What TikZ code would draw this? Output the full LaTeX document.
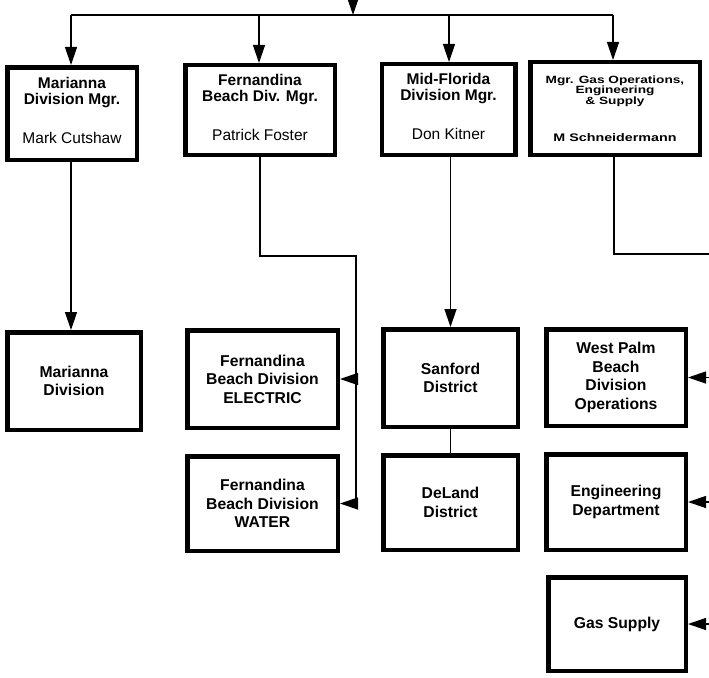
\documentclass[tikz,border=0pt]{standalone}
\usepackage{fontspec}
\setmainfont{Liberation Sans}
\newfontfamily\widefont[FakeStretch=1.3]{Liberation Sans}
\usetikzlibrary{arrows.meta}

\begin{document}
\begin{tikzpicture}[x=1pt,y=-1pt,
  box/.style 2 args={draw, line width=4.5pt,
    minimum width={#1pt-4.5pt}, minimum height={#2pt-4.5pt},
    inner sep=0pt, align=center},
  mgrtext/.style={font=\fontsize{15.5}{16}\selectfont\bfseries, text depth=6pt},
  gastext/.style={font=\widefont\bfseries\fontsize{10.5}{10.5}\selectfont},
  unittext/.style={font=\fontsize{15.7}{18.5}\selectfont\bfseries},
  wire/.style={line width=1.3pt},
  arr/.style={wire, -{Triangle[length=18pt,width=12pt]}}]

\useasboundingbox (0,0) rectangle (709,677);
\clip (0,0) rectangle (709,677);

% ---------- division managers ----------
\node[box={134}{97}, mgrtext] (mgrMar) at (72,113.5)
  {Marianna\\Division Mgr.\\[23pt]{\mdseries Mark Cutshaw}};
\node[box={154}{94}, mgrtext] (mgrFer) at (260,110)
  {Fernandina\\Beach Div. Mgr.\\[23pt]{\mdseries Patrick Foster}};
\node[box={138}{95}, mgrtext] (mgrMid) at (448.5,109.5)
  {Mid-Florida\\Division Mgr.\\[23pt]{\mdseries Don Kitner}};
\node[box={174}{97}, gastext] (mgrGas) at (615,108.5)
  {Mgr. Gas Operations,\\Engineering\\\& Supply\\[26.5pt]{\fontsize{11}{11}\selectfont M Schneidermann}};

% ---------- operating units ----------
\node[box={138}{102}, unittext] (marDiv) at (74,381) {Marianna\\Division};
\node[box={155}{102}, unittext] (ferElec) at (262.5,379) {Fernandina\\Beach Division\\ELECTRIC};
\node[box={155}{99}, unittext] (ferWater) at (262.5,503.5) {Fernandina\\Beach Division\\WATER};
\node[box={139}{102}, unittext] (sanford) at (450.5,378) {Sanford\\District};
\node[box={139}{99}, unittext] (deland) at (450.5,502.5) {DeLand\\District};
\node[box={144}{101}, unittext] (westPalm) at (616,377.5) {West Palm\\Beach\\Division\\Operations};
\node[box={144}{100}, unittext] (engDept) at (616,502) {Engineering\\Department};
\node[box={142}{98}, unittext] (gasSupply) at (617,624) {Gas Supply};

% ---------- top distribution bus ----------
\coordinate (feed) at (353,-30);
\coordinate (busIn) at (353,15);
\coordinate (busL) at (71,15);
\coordinate (busR) at (613,15);
\draw[arr] (feed) -- (busIn);
\draw[wire] (busL) -- (busR);
\draw[arr] (busL) -- (busL |- mgrMar.north);
\draw[arr] (259,15) -- (259,0 |- mgrFer.north);
\draw[arr] (449,15) -- (449,0 |- mgrMid.north);
\draw[arr] (busR) -- (busR |- mgrGas.north);

% ---------- Marianna ----------
\draw[arr] (busL |- mgrMar.south) -- (busL |- marDiv.north);

% ---------- Fernandina Beach ----------
\coordinate (f1) at (260,256);
\coordinate (f2) at (356,256);
\draw[wire] (mgrFer.south) -- (f1) -- (f2) -- (f2 |- ferWater.east);
\draw[arr] (f2 |- ferElec.east) -- (ferElec.east);
\draw[arr] (f2 |- ferWater.east) -- (ferWater.east);

% ---------- Mid-Florida ----------
\draw[arr] (mgrMid.south -| sanford.north) -- (sanford.north);
\draw[wire] (sanford.south) -- (deland.north);

% ---------- Gas operations ----------
\coordinate (g1) at (614,254);
\coordinate (g2) at (716,254);
\coordinate (g3) at (716,640);
\draw[wire] (mgrGas.south -| g1) -- (g1) -- (g2) -- (g3);
\draw[arr] (g2 |- westPalm.east) -- (westPalm.east);
\draw[arr] (g2 |- engDept.east) -- (engDept.east);
\draw[arr] (g2 |- gasSupply.east) -- (gasSupply.east);
\end{tikzpicture}
\end{document}
